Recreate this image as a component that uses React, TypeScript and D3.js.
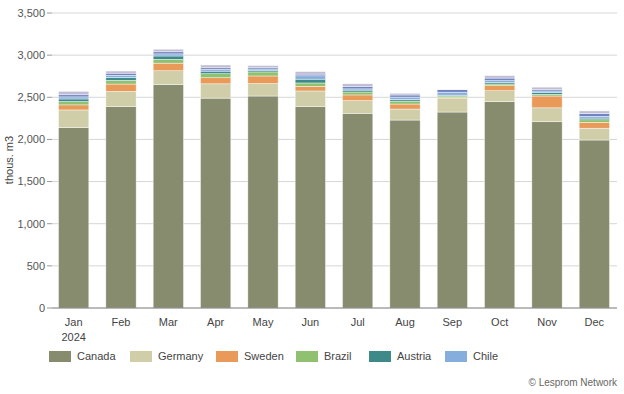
import React from "react"
import * as d3 from "d3"

const months = ["Jan", "Feb", "Mar", "Apr", "May", "Jun", "Jul", "Aug", "Sep", "Oct", "Nov", "Dec"]
const seriesNames = ["Canada", "Germany", "Sweden", "Brazil", "Austria", "Chile", "Other1", "Other2"]
const legendNames = ["Canada", "Germany", "Sweden", "Brazil", "Austria", "Chile"]
const colors = ["#878c6e", "#cfcea8", "#e99a59", "#8fc170", "#3e898a", "#86aedc", "#7283c2", "#bfbcd3"]

const canada = [2140, 2390, 2650, 2490, 2515, 2390, 2310, 2230, 2325, 2448, 2210, 1993]
const germany = [210, 180, 165, 170, 148, 185, 150, 130, 160, 130, 165, 140]
const sweden = [60, 87, 90, 72, 90, 55, 68, 60, 10, 60, 140, 70]
const brazil = [40, 44, 45, 48, 48, 40, 35, 35, 20, 20, 20, 30]
const austria = [30, 35, 40, 30, 20, 45, 22, 20, 10, 20, 20, 20]
const chile = [25, 25, 25, 20, 15, 40, 15, 27, 35, 20, 20, 20]
const other1 = [25, 25, 25, 20, 20, 20, 30, 25, 30, 30, 20, 35]
const other2 = [40, 25, 30, 33, 20, 30, 30, 20, 5, 28, 25, 30]

const yTicks = [0, 500, 1000, 1500, 2000, 2500, 3000, 3500]

const W = 624
const H = 394

export default function App() {
  const rows = months.map((m, i) => ({
    month: m,
    Canada: canada[i],
    Germany: germany[i],
    Sweden: sweden[i],
    Brazil: brazil[i],
    Austria: austria[i],
    Chile: chile[i],
    Other1: other1[i],
    Other2: other2[i],
  }))
  const stacked = d3.stack<any>().keys(seriesNames)(rows)

  const x = d3.scaleBand().domain(months).range([50, 618]).paddingInner(0.36).paddingOuter(0.18)
  const y = d3.scaleLinear().domain([0, 3500]).range([308, 13])
  const fmt = d3.format(",")
  const font = "'Liberation Sans', Arial, sans-serif"

  const legendX = [49, 130, 216, 296, 369, 445]

  return (
    <svg width={W} height={H} style={{ position: "absolute", left: 0, top: 0 }} fontFamily={font}>
      <rect width={W} height={H} fill="#fff" />
      {yTicks.map((t) => (
        <g key={t}>
          {t > 0 && <line x1={52} x2={617} y1={y(t)} y2={y(t)} stroke="#d6d6d6" strokeWidth={1} />}
          <line x1={47} x2={52} y1={y(t)} y2={y(t)} stroke="#999" />
          <text x={45} y={y(t)} dy="0.35em" textAnchor="end" fontSize={11} fill="#555">
            {fmt(t)}
          </text>
        </g>
      ))}
      <text transform={`translate(13,160) rotate(-90)`} textAnchor="middle" fontSize={11} fill="#444">
        thous. m3
      </text>
      {stacked.map((s, si) => (
        <g key={s.key} fill={colors[si]}>
          {s.map((d, i) => (
            <rect
              key={i}
              x={x(months[i])}
              width={x.bandwidth()}
              y={y(d[1])}
              height={Math.max(0, y(d[0]) - y(d[1]))}
              stroke="#fff"
              strokeOpacity={0.7}
              strokeWidth={0.6}
            />
          ))}
        </g>
      ))}
      <line x1={52} x2={617} y1={y(0)} y2={y(0)} stroke="#777" strokeWidth={1} />
      {months.map((m) => (
        <text key={m} x={(x(m) as number) + x.bandwidth() / 2} y={326} textAnchor="middle" fontSize={11} fill="#444">
          {m}
        </text>
      ))}
      <text x={(x("Jan") as number) + x.bandwidth() / 2} y={341} textAnchor="middle" fontSize={11} fill="#444">
        2024
      </text>
      {legendNames.map((n, i) => (
        <g key={n} transform={`translate(${legendX[i]},351)`}>
          <rect width={22} height={11} fill={colors[i]} />
          <text x={28} y={5.5} dy="0.35em" fontSize={11} fill="#444">
            {n}
          </text>
        </g>
      ))}
      <text x={617} y={386} textAnchor="end" fontSize={10} fill="#666">
        © Lesprom Network
      </text>
    </svg>
  )
}
